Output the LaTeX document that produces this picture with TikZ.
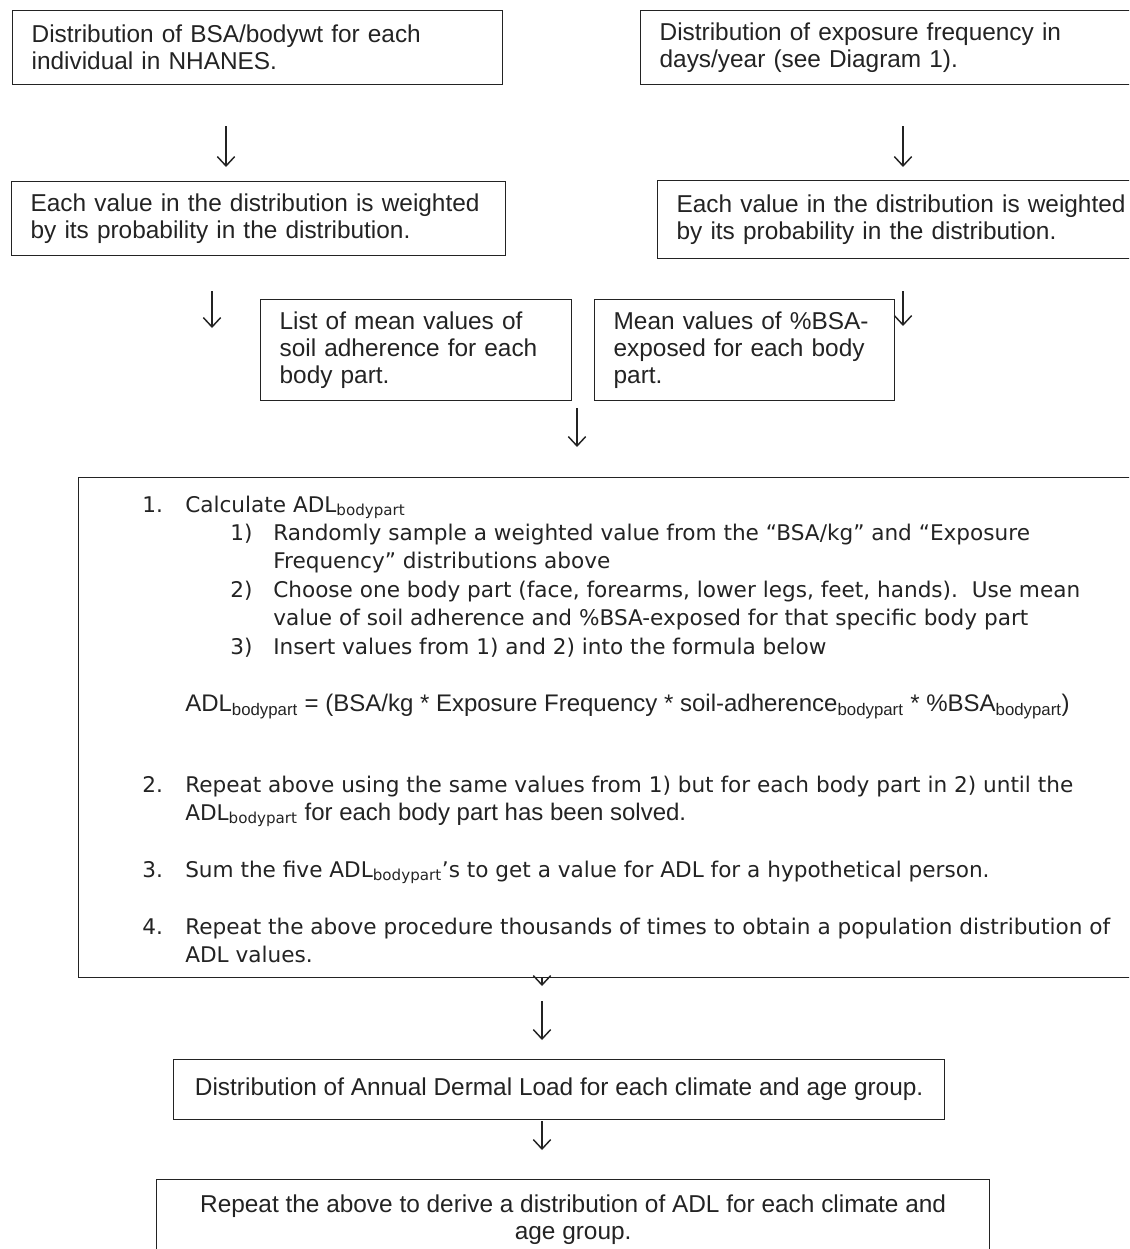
\documentclass[tikz,border=0pt]{standalone}
\usepackage{fontspec}
\setmainfont{Liberation Sans}
\newfontfamily\tahoma{DejaVu Sans}
\usetikzlibrary{arrows.meta,positioning}
\definecolor{ink}{HTML}{232323}
\newcommand{\bp}{\textsubscript{bodypart}}

\begin{document}
\begin{tikzpicture}[
  x=0.75pt, y=-0.75pt,
  font=\fontsize{18.3}{20.3}\selectfont, text=ink,
  box/.style={draw=ink, line width=0.95pt, anchor=north west, align=left, inner xsep=14.25pt, inner ysep=0pt},
  mid/.style={draw=ink, line width=0.95pt, anchor=north west, align=center, inner sep=0pt},
  arr/.style={-{Straight Barb[length=7pt,width=13pt,line width=1.1pt]}, line width=1pt, draw=ink},
  num/.style={anchor=base west, inner sep=0pt, font=\tahoma\fontsize{16.2}{19}\selectfont},
  txt/.style={num},
  eqn/.style={anchor=base west, inner sep=0pt, font=\fontsize{18}{20}\selectfont},
]
\useasboundingbox (0,0) rectangle (1129,1249);
\clip (0,0) rectangle (1129,1249);

% inputs
\node[box, minimum width=367.5pt, minimum height=55.5pt, text width=339pt] (bsa) at (12,10)
  {Distribution of BSA/bodywt for each\\individual in NHANES.};
\node[box, minimum width=390pt, minimum height=55.5pt, text width=361.5pt] (freq) at (640,10)
  {Distribution of exposure frequency in\\days/year (see Diagram 1).};
\node[box, minimum width=370.5pt, minimum height=55.5pt, text width=342pt] (wtL) at (11,181)
  {Each value in the distribution is weighted\\by its probability in the distribution.};
\node[box, minimum width=375pt, minimum height=58.5pt, text width=346.5pt] (wtR) at (657,180)
  {Each value in the distribution is weighted\\by its probability in the distribution.};
\node[box, minimum width=233.25pt, minimum height=75.75pt, text width=204.75pt] (soil) at (260,299)
  {List of mean values of\\soil adherence for each\\body part.};
\node[box, minimum width=225pt, minimum height=75.75pt, text width=196.5pt] (pct) at (594,299)
  {Mean values of \%BSA-\\exposed for each body\\part.};

% procedure
\node[mid, minimum width=817.5pt, minimum height=375pt] (proc) at (78,477) {};
\node[num] (n1) at (142,512) {1.};
\node[txt] (t1) at (185,512) {Calculate ADL\bp};
\node[num] (n11) at (230,540) {1)};
\node[txt] (t11) at (273,540) {Randomly sample a weighted value from the “BSA/kg” and “Exposure};
\node[txt] (t11b) at (273,568) {Frequency” distributions above};
\node[num] (n12) at (230,597) {2)};
\node[txt] (t12) at (273,597) {Choose one body part (face, forearms, lower legs, feet, hands).\ \ Use mean};
\node[txt] (t12b) at (273,625) {value of soil adherence and \%BSA-exposed for that specific body part};
\node[num] (n13) at (230,654) {3)};
\node[txt] (t13) at (273,654) {Insert values from 1) and 2) into the formula below};
\node[eqn] (eq) at (185,711) {ADL\bp{} = (BSA/kg * Exposure Frequency * soil-adherence\bp{} * \%BSA\bp)};
\node[num] (n2) at (142,792) {2.};
\node[txt] (t2) at (185,792) {Repeat above using the same values from 1) but for each body part in 2) until the};
\node[txt] (t2b) at (185,820) {ADL\bp{} {\rmfamily\fontsize{18}{20}\selectfont for each body part has been solved.}};
\node[num] (n3) at (142,877) {3.};
\node[txt] (t3) at (185,877) {Sum the five ADL\bp’s to get a value for ADL for a hypothetical person.};
\node[num] (n4) at (142,934) {4.};
\node[txt] (t4) at (185,934) {Repeat the above procedure thousands of times to obtain a population distribution of};
\node[txt] (t4b) at (185,962) {ADL values.};

% outputs
\node[mid, minimum width=578.25pt, minimum height=45pt] (adl) at (173,1059)
  {Distribution of Annual Dermal Load for each climate and age group.};
\node[mid, minimum width=624.75pt, minimum height=60pt] (rep) at (156,1179)
  {Repeat the above to derive a distribution of ADL for each climate and\\age group.};

% arrows
\coordinate (xL) at (226,0);
\coordinate (xR) at (903,0);
\coordinate (xC) at (577,0);
\coordinate (xD) at (542,0);
\coordinate (endL) at (212,328);
\coordinate (endR) at (903,326);
\coordinate (tipD) at (542,986);
\draw[arr, shorten <=30.75pt, shorten >=10.5pt] (xL |- bsa.south) -- (xL |- wtL.north);
\draw[arr, shorten <=30.75pt, shorten >=9.75pt] (xR |- freq.south) -- (xR |- wtR.north);
\draw[arr, shorten <=26.25pt] (endL |- wtL.south) -- (endL);
\draw[arr, shorten <=24pt] (endR |- wtR.south) -- (endR);
\draw[arr, shorten <=5.25pt, shorten >=22.5pt] (xC |- soil.south) -- (xC |- proc.north);
\draw[arr] (tipD |- proc.south) -- (tipD);
\draw[arr, shorten <=17.25pt, shorten >=14.25pt] (xD |- proc.south) -- (xD |- adl.north);
\draw[arr, shorten <=0.75pt, shorten >=21.75pt] (xD |- adl.south) -- (xD |- rep.north);
\end{tikzpicture}
\end{document}
